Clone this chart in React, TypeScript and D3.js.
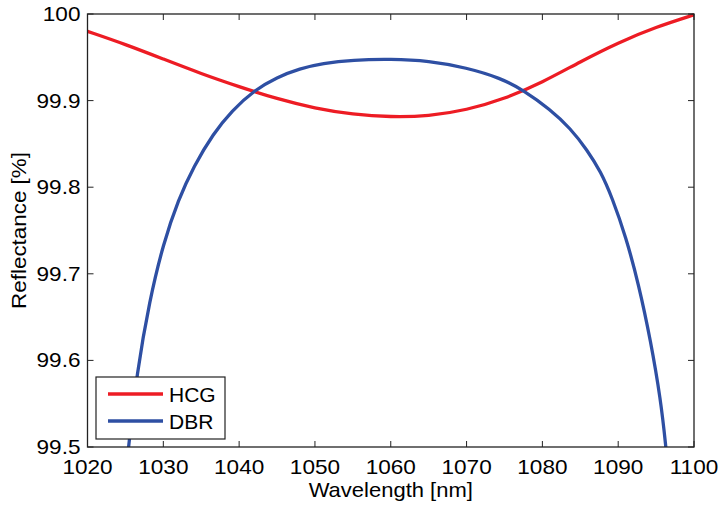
import React from "react";
import * as d3 from "d3";

const hcgWavelength = [1020, 1025, 1030, 1035, 1040, 1045, 1050, 1055, 1060, 1065, 1070, 1075, 1080, 1085, 1090, 1095, 1100];
const hcgReflectance = [99.980, 99.965, 99.948, 99.931, 99.916, 99.902, 99.891, 99.884, 99.881, 99.882, 99.889, 99.902, 99.921, 99.945, 99.967, 99.985, 99.999];

const dbrWavelength = [1025.1, 1025.4, 1026.5, 1028.2, 1030, 1032, 1034, 1036.6, 1039, 1042, 1045, 1048, 1051, 1055, 1060, 1065, 1070, 1074.5, 1077.5, 1081, 1083.7, 1085.9, 1087.7, 1089.2, 1091, 1092.7, 1094.3, 1095.6, 1096.3, 1096.6];
const dbrReflectance = [99.47, 99.50, 99.585, 99.670, 99.735, 99.786, 99.824, 99.862, 99.888, 99.912, 99.927, 99.937, 99.943, 99.947, 99.948, 99.946, 99.938, 99.926, 99.912, 99.890, 99.868, 99.843, 99.818, 99.788, 99.743, 99.688, 99.622, 99.555, 99.50, 99.47];

const xTicks = [1020, 1030, 1040, 1050, 1060, 1070, 1080, 1090, 1100];
const yTicks = [99.5, 99.6, 99.7, 99.8, 99.9, 100];
const yTickLabels = ["99.5", "99.6", "99.7", "99.8", "99.9", "100"];
const seriesNames = ["HCG", "DBR"];
const seriesColors = ["#ED1C24", "#2E4FA3"];

const W = 720, H = 508;
const L = 87.5, R = 694, T = 14, B = 447;
const FONT = "'Liberation Sans', Arial, Helvetica, sans-serif";
const SX = 1.13;

export default function App() {
  const x = d3.scaleLinear().domain([1020, 1100]).range([L, R]);
  const y = d3.scaleLinear().domain([99.5, 100]).range([B, T]);
  const line = d3.line<[number, number]>().x(d => x(d[0])).y(d => y(d[1])).curve(d3.curveBasis);
  const hcg = hcgWavelength.map((w, i) => [w, hcgReflectance[i]] as [number, number]);
  const dbr = dbrWavelength.map((w, i) => [w, dbrReflectance[i]] as [number, number]);
  const tick = 6;
  return (
    <svg width={W} height={H} style={{ position: "absolute", left: 0, top: 0, background: "#fff" }} fontFamily={FONT}>
      <defs>
        <clipPath id="plot"><rect x={L} y={T - 2} width={R - L} height={B - T + 2} /></clipPath>
      </defs>
      <rect x={0} y={0} width={W} height={H} fill="#fff" />
      <g clipPath="url(#plot)">
        <path d={line(hcg) || ""} fill="none" stroke={seriesColors[0]} strokeWidth={3.3} />
        <path d={line(dbr) || ""} fill="none" stroke={seriesColors[1]} strokeWidth={3.3} />
      </g>
      <rect x={L} y={T} width={R - L} height={B - T} fill="none" stroke="#222" strokeWidth={1.3} />
      {xTicks.map(t => (
        <g key={"x" + t}>
          <line x1={x(t)} x2={x(t)} y1={B} y2={B - tick} stroke="#222" strokeWidth={1} />
          <line x1={x(t)} x2={x(t)} y1={T} y2={T + tick} stroke="#222" strokeWidth={1} />
          <text transform={`translate(${x(t)},474) scale(${SX},1)`} textAnchor="middle" fontSize={20} fill="#000">{t}</text>
        </g>
      ))}
      {yTicks.map((t, i) => (
        <g key={"y" + t}>
          <line x1={L} x2={L + tick} y1={y(t)} y2={y(t)} stroke="#222" strokeWidth={1} />
          <line x1={R} x2={R - tick} y1={y(t)} y2={y(t)} stroke="#222" strokeWidth={1} />
          <text transform={`translate(80.5,${y(t) + 7}) scale(${SX},1)`} textAnchor="end" fontSize={20} fill="#000">{yTickLabels[i]}</text>
        </g>
      ))}
      <text transform={`translate(${(L + R) / 2},497) scale(1.1,1)`} textAnchor="middle" fontSize={20} fill="#000">Wavelength [nm]</text>
      <text transform={`translate(26, ${(T + B) / 2}) rotate(-90) scale(1.12,1)`} textAnchor="middle" fontSize={20} fill="#000">Reflectance [%]</text>
      <g>
        <rect x={96} y={377} width={129} height={62} fill="#fff" stroke="#222" strokeWidth={1.2} />
        {seriesNames.map((n, i) => (
          <g key={n}>
            <line x1={108} x2={163} y1={394 + i * 27} y2={394 + i * 27} stroke={seriesColors[i]} strokeWidth={3.3} />
            <text x={169} y={394 + i * 27 + 7.5} fontSize={21} fill="#000">{n}</text>
          </g>
        ))}
      </g>
    </svg>
  );
}
